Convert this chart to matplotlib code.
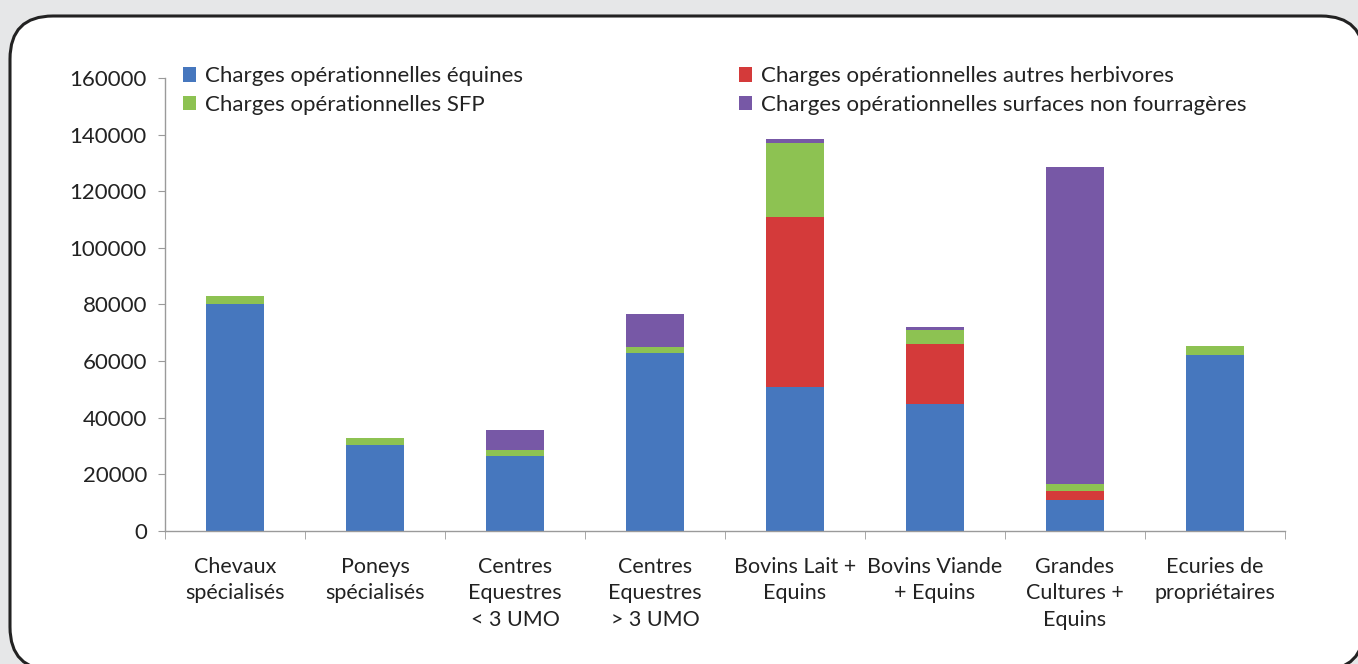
import numpy as np
import matplotlib
matplotlib.use("Agg")
import matplotlib.pyplot as plt
from matplotlib.patches import FancyBboxPatch

plt.rcParams["font.family"] = ["Lato", "DejaVu Sans"]

# DATA
categories = [
    "Chevaux\nspécialisés",
    "Poneys\nspécialisés",
    "Centres\nEquestres\n< 3 UMO",
    "Centres\nEquestres\n> 3 UMO",
    "Bovins Lait +\nEquins",
    "Bovins Viande\n+ Equins",
    "Grandes\nCultures +\nEquins",
    "Ecuries de\npropriétaires",
]
equines = [80000, 30500, 26500, 63000, 51000, 45000, 11000, 62000]
autres_herbivores = [0, 0, 0, 0, 60000, 21000, 3000, 0]
sfp = [3000, 2500, 2000, 2000, 26000, 5000, 2500, 3500]
surfaces_nf = [0, 0, 7000, 11500, 1500, 1000, 112000, 0]

series = [
    ("Charges opérationnelles équines", equines, "#4677BE"),
    ("Charges opérationnelles autres herbivores", autres_herbivores, "#D43A3A"),
    ("Charges opérationnelles SFP", sfp, "#8DC252"),
    ("Charges opérationnelles surfaces non fourragères", surfaces_nf, "#7758A6"),
]
y_ticks = [0, 20000, 40000, 60000, 80000, 100000, 120000, 140000, 160000]

fig = plt.figure(figsize=(13.58, 6.64), dpi=100)
fig.patch.set_facecolor("#E6E7E8")

# rounded white frame (inches)
frame = FancyBboxPatch(
    (0.10, -0.06), 13.54, 6.54,
    boxstyle="round,pad=0,rounding_size=0.43",
    transform=fig.dpi_scale_trans, facecolor="white",
    edgecolor="#222222", linewidth=2.2, zorder=-1,
)
fig.patches.append(frame)

ax = fig.add_axes([165 / 1358, 133 / 664, 1120 / 1358, 453 / 664])
ax.set_facecolor("none")

x = np.arange(len(categories))
bottom = np.zeros(len(categories))
bars = {}
for label, values, color in series:
    vals = np.array(values, dtype=float)
    bars[label] = ax.bar(x, vals, width=0.41, bottom=bottom, color=color,
                         label=label, zorder=2)
    bottom += vals

ax.set_xlim(-0.5, len(categories) - 0.5)
ax.set_ylim(0, 160000)
ax.set_yticks(y_ticks)
ax.set_yticklabels([str(v) for v in y_ticks], fontsize=16, color="#222222")
ax.set_xticks(x)
ax.set_xticklabels(categories, fontsize=15.5, color="#222222", linespacing=1.38)
ax.set_xticks(np.arange(len(categories) + 1) - 0.5, minor=True)
ax.tick_params(axis="x", which="major", length=0, pad=19)
ax.tick_params(axis="x", which="minor", length=6, color="#9a9a9a", direction="out")
ax.tick_params(axis="y", length=5, color="#9a9a9a", direction="out", pad=8)

for side in ["top", "right"]:
    ax.spines[side].set_visible(False)
for side in ["left", "bottom"]:
    ax.spines[side].set_color("#9a9a9a")
    ax.spines[side].set_linewidth(1)

handles = [bars[s[0]] for s in series]
order = [0, 2, 1, 3]
ax.legend(
    [handles[i] for i in order], [series[i][0] for i in order],
    ncol=2, loc="upper left", bbox_to_anchor=(-0.002, 1.07),
    frameon=False, fontsize=16, handlelength=0.6, handleheight=0.6,
    handletextpad=0.4, columnspacing=9.7, labelspacing=0.4,
    labelcolor="#222222",
)

fig.savefig("out.png", dpi=100, facecolor=fig.get_facecolor())
